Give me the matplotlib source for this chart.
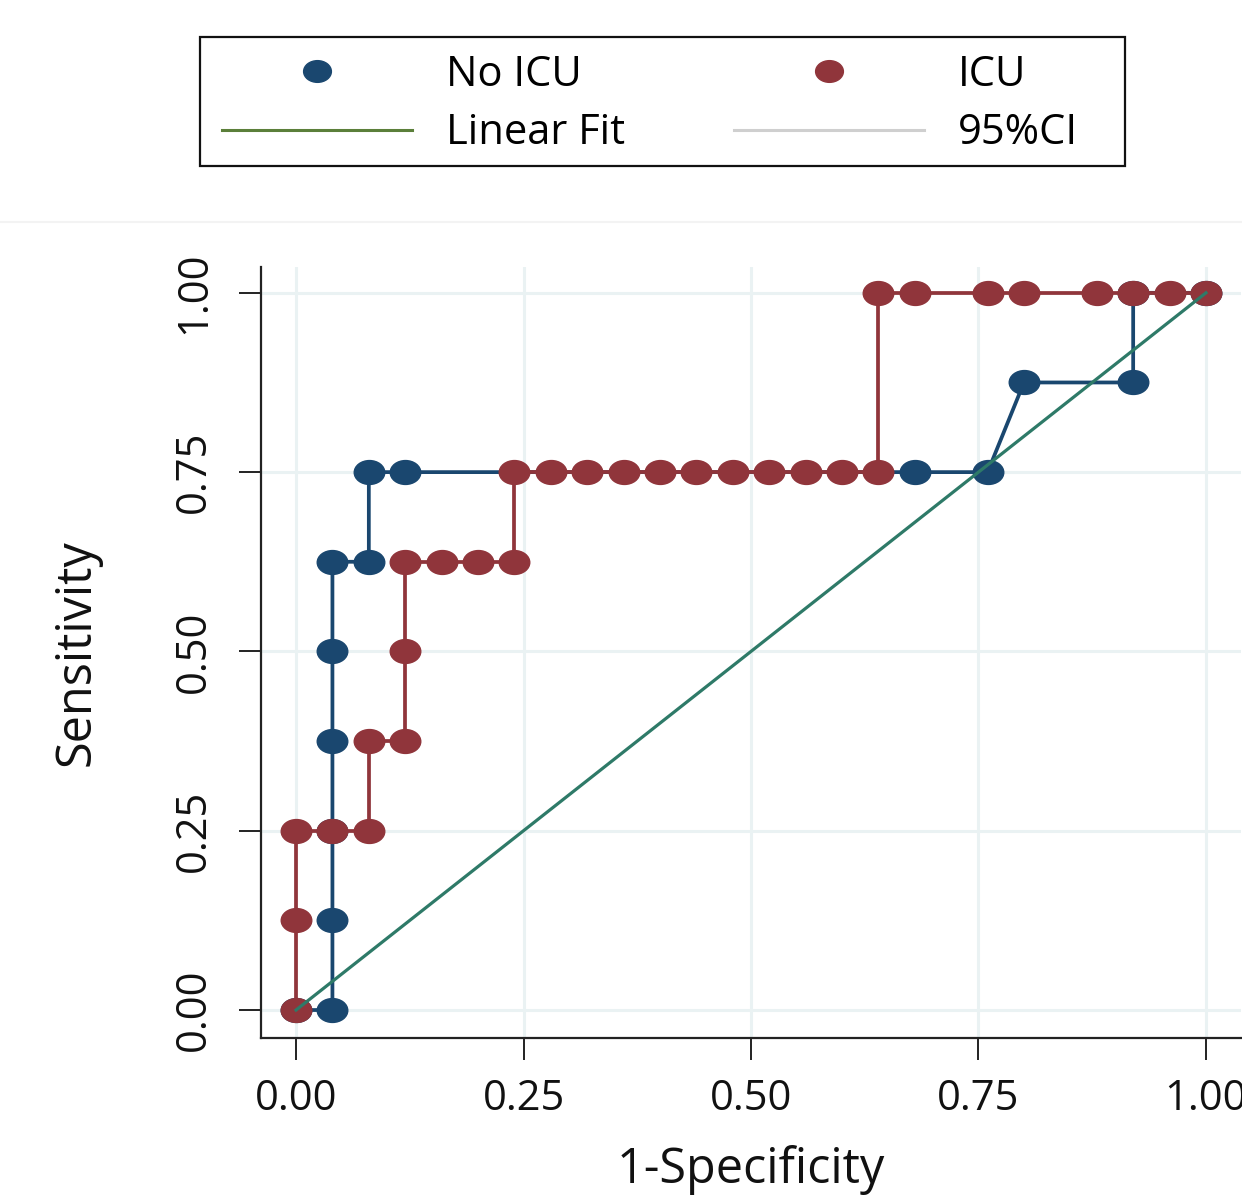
import matplotlib
matplotlib.use("Agg")
import matplotlib.pyplot as plt
from matplotlib.path import Path
from matplotlib.transforms import Affine2D
from matplotlib.lines import Line2D
from matplotlib.patches import Rectangle

plt.rcParams['font.family'] = ['Open Sans', 'DejaVu Sans']

# ---- data ----
noicu_x = [0.00, 0.04, 0.04, 0.04, 0.04, 0.04, 0.04, 0.08, 0.08, 0.12, 0.68, 0.76, 0.80, 0.92, 0.92, 1.00]
noicu_y = [0.000, 0.000, 0.125, 0.250, 0.375, 0.500, 0.625, 0.625, 0.750, 0.750, 0.750, 0.750, 0.875, 0.875, 1.000, 1.000]

icu_x = [0.00, 0.00, 0.00, 0.04, 0.08, 0.08, 0.12, 0.12, 0.12, 0.16, 0.20, 0.24, 0.24,
         0.28, 0.32, 0.36, 0.40, 0.44, 0.48, 0.52, 0.56, 0.60, 0.64,
         0.64, 0.68, 0.76, 0.80, 0.88, 0.92, 0.96, 1.00]
icu_y = [0.000, 0.125, 0.250, 0.250, 0.250, 0.375, 0.375, 0.500, 0.625, 0.625, 0.625, 0.625, 0.750,
         0.750, 0.750, 0.750, 0.750, 0.750, 0.750, 0.750, 0.750, 0.750, 0.750,
         1.000, 1.000, 1.000, 1.000, 1.000, 1.000, 1.000, 1.000]

ref_x = [0.0, 1.0]
ref_y = [0.0, 1.0]

ticks = [0.00, 0.25, 0.50, 0.75, 1.00]
tick_labels = ["0.00", "0.25", "0.50", "0.75", "1.00"]

# ---- styles ----
BLUE = "#1A476F"
RED = "#90353B"
TEAL = "#2E7A68"
FITGREEN = "#5B7F3A"
CIGRAY = "#CFCFCF"
GRID = "#EAF2F3"

ell = Path.unit_circle().transformed(Affine2D().scale(1.28, 1.0))

W, H = 1242, 1197
fig = plt.figure(figsize=(W / 100, H / 100), dpi=100)
fig.patch.set_facecolor("white")

left, right, top, bottom = 261, 1241, 267, 1038
ax = fig.add_axes([left / W, 1 - bottom / H, (right - left) / W, (bottom - top) / H])

ax.plot(noicu_x, noicu_y, color=BLUE, lw=2.7, marker=ell, ms=22, mec=BLUE, mfc=BLUE,
        zorder=3, solid_joinstyle='round')
ax.plot(icu_x, icu_y, color=RED, lw=2.7, marker=ell, ms=22, mec=RED, mfc=RED,
        zorder=4, solid_joinstyle='round')
ax.plot(ref_x, ref_y, color=TEAL, lw=2.3, zorder=5)

ax.set_xlim(-0.0385, 1.0385)
ax.set_ylim(-0.039, 1.036)
ax.set_xticks(ticks)
ax.set_xticklabels(tick_labels)
ax.set_yticks(ticks)
ax.set_yticklabels(tick_labels, rotation=90, va='center')
ax.grid(True, color=GRID, lw=2.2, zorder=0)
ax.set_axisbelow(True)

for s in ['top', 'right']:
    ax.spines[s].set_visible(False)
for s in ['left', 'bottom']:
    ax.spines[s].set_linewidth(1.6)
    ax.spines[s].set_color("#222222")

ax.tick_params(axis='both', which='major', direction='out', length=16, width=1.4,
               color="#222222", labelsize=30, labelcolor="#111111")
ax.tick_params(axis='x', pad=13)
ax.tick_params(axis='y', pad=17)

ax.set_xlabel("1-Specificity", fontsize=35, color="#111111")
ax.set_ylabel("Sensitivity", fontsize=35, color="#111111")
ax.xaxis.set_label_coords(0.5, -0.139)
ax.yaxis.set_label_coords(-0.163, 0.5)

# faint separator line
fig.add_artist(Line2D([0, 1], [1 - 222 / H, 1 - 222 / H], transform=fig.transFigure,
                      color="#F3F3F3", lw=1.5))

# legend frame
fig.add_artist(Rectangle((200 / W, 1 - 166 / H), 925 / W, 129 / H, transform=fig.transFigure,
                         facecolor='white', edgecolor='#111111', lw=1.6, zorder=1))

handles = [
    Line2D([], [], ls='none', marker=ell, ms=20, color=BLUE),
    Line2D([], [], color=FITGREEN, lw=2.2),
    Line2D([], [], ls='none', marker=ell, ms=20, color=RED),
    Line2D([], [], color=CIGRAY, lw=2.2),
]
labels = ["No ICU", "Linear Fit", "ICU", "95%CI"]
leg = fig.legend(handles, labels, ncol=2, loc='center left',
                 bbox_to_anchor=(222 / W, 1 - 104 / H),
                 fontsize=30, frameon=False, handlelength=4.56, handletextpad=0.82,
                 columnspacing=2.61, borderpad=0, labelspacing=0.39,
                 borderaxespad=0)
leg.set_zorder(2)

fig.savefig("out.png", dpi=100, facecolor="white")
